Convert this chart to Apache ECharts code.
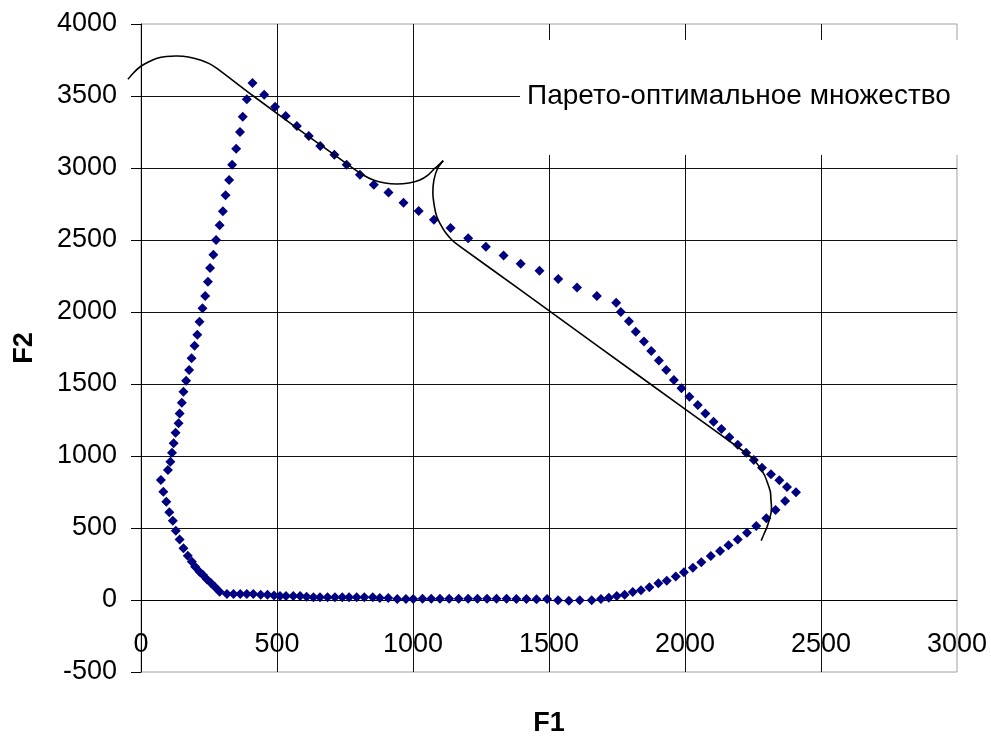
<!DOCTYPE html>
<html>
<head>
<meta charset="utf-8">
<script src="https://cdn.jsdelivr.net/npm/echarts@6/dist/echarts.min.js"></script>
<style>
html,body{margin:0;padding:0;background:#fff;}
#chart{width:991px;height:736px;}
</style>
</head>
<body>
<div id="chart"></div>
<script>
// Objective values F1 / F2 of the computed solutions (loop order)
const f1 = [
  73, 99, 108, 114, 120, 127, 138, 142, 150, 156, 166, 177, 186, 197, 207, 215, 226, 236, 246, 254,
  266, 276, 289, 301, 311, 324, 335, 350, 364, 374, 389, 410,
  453, 493, 532, 573, 617, 659, 711, 756, 805, 856, 910, 965, 1021, 1077, 1138, 1203, 1268, 1333,
  1396, 1465, 1534, 1603, 1676, 1747,
  1764, 1794, 1819, 1849, 1876, 1904, 1931, 1959, 1987, 2016, 2047, 2075, 2105, 2134, 2163, 2194,
  2225, 2253, 2283, 2316, 2347, 2375, 2408,
  2368, 2333, 2299, 2262, 2228, 2194, 2160, 2129, 2095, 2060, 2029, 1996, 1966, 1933, 1902, 1869,
  1838, 1808, 1778, 1749, 1720, 1691, 1657,
  1613, 1573, 1533, 1493, 1454, 1417, 1380, 1344, 1307, 1272, 1237, 1203, 1168, 1133, 1099, 1067,
  1035, 1001, 974, 942, 909, 878, 852, 821, 793, 765, 740, 713, 686, 658, 634, 609, 585, 560, 533,
  511, 489, 465, 440, 413, 389, 365, 340, 316,
  289, 273, 258, 242, 228, 215, 199, 187, 172, 156, 142, 128, 117, 104, 93, 82
];
const f2 = [
  833, 903, 960, 1023, 1088, 1162, 1227, 1296, 1370, 1447, 1523, 1597, 1678, 1766, 1842, 1932, 2026, 2111, 2210, 2305,
  2398, 2500, 2602, 2699, 2810, 2917, 3023, 3134, 3250, 3356, 3477, 3590,
  3509, 3426, 3361, 3292, 3222, 3153, 3092, 3023, 2953, 2884, 2829, 2759, 2701, 2641, 2583, 2512, 2453, 2393,
  2335, 2287, 2229, 2171, 2111, 2065,
  2000, 1935, 1863, 1796, 1729, 1664, 1597, 1528, 1470, 1412, 1354, 1296, 1238, 1187, 1130, 1078,
  1023, 972, 919, 873, 831, 785, 748,
  687, 625, 567, 514, 467, 421, 380, 340, 306, 262, 224, 192, 164, 134, 116, 88,
  67, 56, 37, 28, 16, 7, -2,
  -2, -5, -2, 7, 5, 7, 7, 9, 9, 9, 9, 9, 9, 9, 9, 9,
  9, 7, 7, 7, 14, 14, 19, 19, 19, 19, 19, 19, 19, 19, 19, 23, 28, 28, 28,
  28, 32, 37, 37, 42, 42, 42, 42, 42,
  58, 88, 116, 144, 174, 197, 231, 266, 308, 359, 421, 481, 551, 609, 683, 752
];

// Hand-drawn bracket marking the Pareto-optimal set (data coordinates)
const bracket1F1 = [-48, -28, -3, 27, 59, 93, 132, 174, 218, 251, 279, 413, 609, 780, 820, 854, 897, 940, 985, 1025, 1055, 1080, 1099, 1111];
const bracket1F2 = [3616, 3660, 3703, 3736, 3762, 3774, 3778, 3771, 3750, 3725, 3692, 3500, 3229, 2998, 2948, 2917, 2896, 2889, 2896, 2917, 2951, 2998, 3028, 3051];
const bracket2F1 = [1111, 1091, 1077, 1073, 1079, 1088, 1099, 1121, 1143, 1166, 1392, 1686, 1980, 2225, 2252, 2273, 2292, 2304, 2314, 2316, 2318, 2316, 2303, 2292, 2280];
const bracket2F2 = [3051, 3000, 2917, 2826, 2729, 2659, 2616, 2548, 2500, 2465, 2157, 1755, 1353, 1019, 976, 926, 868, 810, 750, 694, 646, 602, 514, 465, 412];

const annotationText = 'Парето-оптимальное множество';
const xName = 'F1';
const yName = 'F2';

const zip = (a, b) => a.map((v, i) => [v, b[i]]);
const FONT = 'Liberation Sans, Arial, sans-serif';
const plain = v => String(v);

const chart = echarts.init(document.getElementById('chart'));
chart.setOption({
  animation: false,
  backgroundColor: '#fff',
  title: {
    text: annotationText,
    left: 520,
    top: 40,
    backgroundColor: '#fff',
    padding: [41, 60, 44, 7],
    textStyle: { fontSize: 28, fontWeight: 'normal', color: '#000', fontFamily: FONT, lineHeight: 30 }
  },
  grid: {
    left: 141, right: 34, top: 24, bottom: 64,
    show: true, borderColor: '#a0a0a0', borderWidth: 1,
    outerBoundsMode: 'none'
  },
  xAxis: {
    type: 'value', min: 0, max: 3000, interval: 500,
    offset: -72,
    axisLine: { onZero: false, lineStyle: { color: '#000', width: 1 } },
    axisTick: { show: false },
    axisLabel: { margin: 31, fontSize: 27, color: '#000', fontFamily: FONT, formatter: plain },
    splitLine: { show: true, showMinLine: false, showMaxLine: false, lineStyle: { color: '#111', width: 1 } },
    name: xName, nameLocation: 'middle', nameGap: 110,
    nameTextStyle: { fontSize: 27, fontWeight: 'bold', color: '#000', fontFamily: FONT }
  },
  yAxis: {
    type: 'value', min: -500, max: 4000, interval: 500,
    axisLine: { show: true, onZero: false, lineStyle: { color: '#000', width: 1 } },
    axisTick: { show: true, inside: false, length: 10, lineStyle: { color: '#000' } },
    axisLabel: { margin: 24, fontSize: 27, color: '#000', fontFamily: FONT, formatter: plain },
    splitLine: { show: true, showMinLine: false, showMaxLine: false, lineStyle: { color: '#111', width: 1 } },
    name: yName, nameLocation: 'middle', nameGap: 103, nameRotate: 90,
    nameTextStyle: { fontSize: 27, fontWeight: 'bold', color: '#000', fontFamily: FONT }
  },
  series: [
    {
      type: 'scatter',
      data: zip(f1, f2),
      symbol: 'diamond',
      symbolSize: 10,
      itemStyle: { color: '#000080', opacity: 1 },
      z: 3
    }
  ]
});

// Bracket drawn through the chart's own coordinate system
const toPx = (xs, ys) => zip(xs, ys).map(p => chart.convertToPixel({ gridIndex: 0 }, p));
chart.setOption({
  graphic: [
    {
      type: 'polyline', z: 100,
      shape: { points: toPx(bracket1F1, bracket1F2), smooth: 0.25 },
      style: { stroke: '#000', lineWidth: 1.6, fill: null }
    },
    {
      type: 'polyline', z: 100,
      shape: { points: toPx(bracket2F1, bracket2F2), smooth: 0.25 },
      style: { stroke: '#000', lineWidth: 1.6, fill: null }
    }
  ]
});
</script>
</body>
</html>
